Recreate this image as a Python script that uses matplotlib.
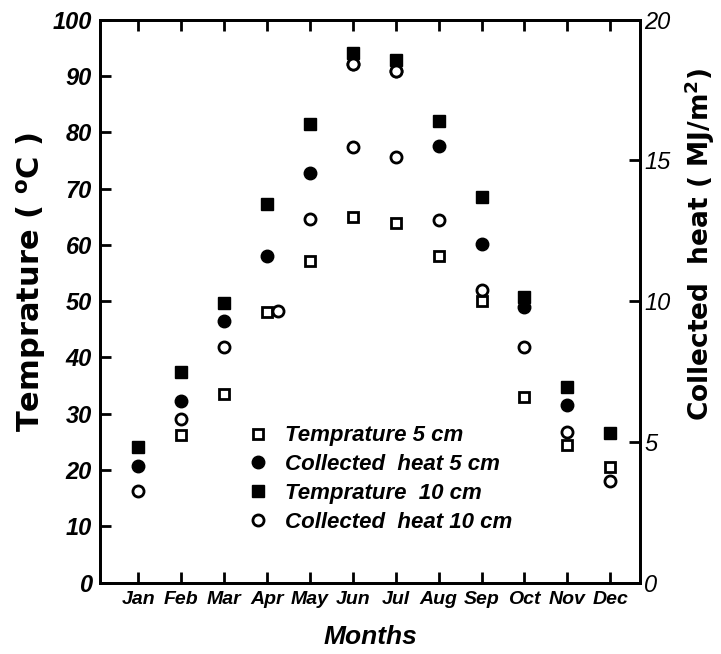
import numpy as np
import matplotlib
matplotlib.use("Agg")
import matplotlib.pyplot as plt

months = ["Jan", "Feb", "Mar", "Apr", "May", "Jun", "Jul", "Aug", "Sep", "Oct", "Nov", "Dec"]

# temperature (deg C), left axis
temp_5cm = [np.nan, 26.3, 33.6, 48.1, 57.1, 64.9, 63.9, 58.0, 50.0, 33.0, 24.5, 20.5]
temp_10cm = [24.1, 37.5, 49.7, 67.3, 81.5, 94.0, 92.8, 82.0, 68.5, 50.8, 34.8, 26.5]

# collected heat (MJ/m2), right axis
heat_5cm = [4.16, 6.46, 9.30, 11.60, 14.54, 18.44, 18.18, 15.50, 12.04, 9.80, 6.30, np.nan]
heat_10cm = [3.24, 5.80, 8.36, 9.66, 12.92, 15.48, 15.12, 12.88, 10.40, 8.36, 5.36, 3.60]

plt.rcParams['font.family'] = ['Liberation Sans', 'DejaVu Sans']

x = np.arange(1, len(months) + 1)
# small sideways nudge where two markers would sit on top of each other
dodge = np.zeros(len(months))
dodge[3] = 0.25

fig = plt.figure(figsize=(7.21, 6.54), dpi=100)
ax = fig.add_axes([0.139, 0.109, 0.749, 0.861])
ax2 = ax.twinx()

ms = 8
h1, = ax.plot(x, temp_5cm, ls="none", marker="s", ms=ms - 1, mfc="white", mec="black", mew=2,
              label="Temprature 5 cm")
h3, = ax.plot(x, temp_10cm, ls="none", marker="s", ms=ms + 1, mfc="black", mec="black",
              label="Temprature  10 cm")
h2, = ax2.plot(x, heat_5cm, ls="none", marker="o", ms=ms + 1, mfc="black", mec="black",
               label="Collected  heat 5 cm")
# Jun and Jul points of this series are printed hollow in the original
hollow = [5, 6]
ax2.plot(x[hollow], np.array(heat_5cm)[hollow], ls="none", marker="o", ms=ms, mfc="white",
         mec="black", mew=2)
h4, = ax2.plot(x + dodge, heat_10cm, ls="none", marker="o", ms=ms, mfc="white", mec="black", mew=2,
               label="Collected  heat 10 cm")

ax.set_xlim(0.11, 12.7)
ax.set_ylim(0, 100)
ax2.set_ylim(0, 20)

ax.set_xticks(x)
ax.set_xticklabels(months, fontsize=14, fontweight="bold", fontstyle="italic")
ax.set_yticks(np.arange(0, 101, 10))
ax.set_yticklabels([str(v) for v in range(0, 101, 10)], fontsize=17, fontstyle="italic",
                   fontweight="bold")
ax2.set_yticks([0, 5, 10, 15, 20])
ax2.set_yticklabels(["0", "5", "10", "15", "20"], fontsize=17, fontstyle="italic")

ax.tick_params(axis="x", direction="in", length=8, width=2, top=True, pad=6)
ax.tick_params(axis="y", direction="in", length=8, width=2, pad=6)
ax2.tick_params(axis="y", direction="in", length=8, width=2, pad=3)

for a in (ax, ax2):
    for s in a.spines.values():
        s.set_linewidth(2)

ax.set_xlabel("Months", fontsize=19, fontweight="bold", fontstyle="italic", labelpad=12)
ax.set_ylabel("Temprature ( $^{\\mathbf{o}}$C )", fontsize=22, fontweight="bold",
              family="DejaVu Sans")
ax2.set_ylabel("Collected  heat ( MJ/m$^{\\mathbf{2}}$)", fontsize=19, fontweight="bold",
               rotation=90, family="DejaVu Sans")
ax.yaxis.set_label_coords(-0.097, 0.535)
ax2.yaxis.set_label_coords(1.078, 0.6)

ax2.legend(handles=[h1, h2, h3, h4], loc="upper left", bbox_to_anchor=(0.255, 0.295),
           frameon=False, prop={"size": 16, "weight": "bold", "style": "italic"},
           handletextpad=0.7, labelspacing=0.35, handlelength=1.0, borderaxespad=0)

fig.savefig("out.png", dpi=100)
